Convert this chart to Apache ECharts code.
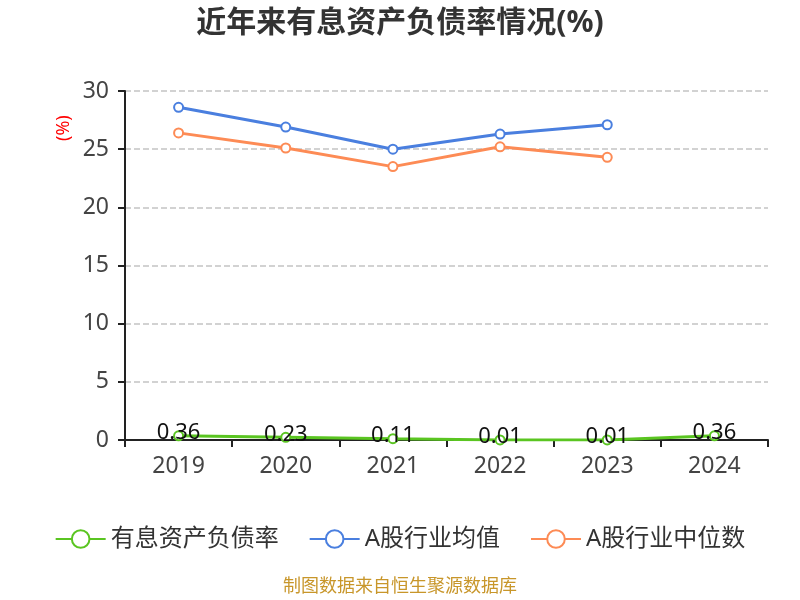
<!DOCTYPE html>
<html><head><meta charset="utf-8">
<script src="https://cdn.jsdelivr.net/npm/echarts@6/dist/echarts.min.js"></script>
<style>html,body{margin:0;padding:0;background:#fff}#c{width:800px;height:600px}</style>
</head><body><div id="c"></div>
<script>
const categories = ['2019','2020','2021','2022','2023','2024'];
const seriesNames = ['有息资产负债率','A股行业均值','A股行业中位数'];
const debtRatio = [0.36,0.23,0.11,0.01,0.01,0.36];
const industryMean = [28.6,26.9,25.0,26.3,27.1,null];
const industryMedian = [26.4,25.1,23.5,25.2,24.3,null];
const yTicks = [0,5,10,15,20,25,30];

const chart = echarts.init(document.getElementById('c'));
const font = 'Noto Sans, Noto Sans CJK SC, sans-serif';
chart.setOption({
  animation:false,
  title:{text:'近年来有息资产负债率情况(%)',left:'center',top:3,textStyle:{fontSize:30,fontWeight:'bold',color:'#333',fontFamily:font}},
  grid:{left:125,right:32,top:91,bottom:160},
  legend:{top:522,left:'center',itemWidth:50,itemHeight:22,itemGap:30,textStyle:{fontSize:24,color:'#333',fontFamily:font},data:seriesNames},
  graphic:[
    {type:'text',left:'center',top:578,style:{text:'制图数据来自恒生聚源数据库',fill:'#c8962a',fontSize:18,fontFamily:font}},
    {type:'text',x:55,y:141,rotation:Math.PI/2,style:{text:'(%)',fill:'#f00',fontSize:18,fontFamily:font}}
  ],
  xAxis:{type:'category',data:categories,boundaryGap:true,
    axisLine:{lineStyle:{color:'#222',width:2}},
    axisTick:{show:true,length:7,lineStyle:{color:'#222',width:2}},
    axisLabel:{fontSize:23,color:'#444',margin:15,fontFamily:font}},
  yAxis:{type:'value',min:yTicks[0],max:yTicks[yTicks.length-1],interval:5,
    axisLine:{show:true,lineStyle:{color:'#222',width:2}},
    axisTick:{show:true,length:7,lineStyle:{color:'#222',width:2}},
    axisLabel:{fontSize:23,color:'#444',margin:16,fontFamily:font},
    splitLine:{lineStyle:{type:'dashed',color:'#c4c4c4',width:1.5}}},
  series:[
    {name:seriesNames[0],type:'line',data:debtRatio,symbol:'emptyCircle',symbolSize:9,
      lineStyle:{width:3,color:'#5ac521'},itemStyle:{color:'#5ac521',borderWidth:2},
      label:{show:true,position:'inside',offset:[0,-3],fontSize:22,color:'#111',fontFamily:font}},
    {name:seriesNames[1],type:'line',data:industryMean,symbol:'emptyCircle',symbolSize:9,
      lineStyle:{width:3,color:'#4a7fdf'},itemStyle:{color:'#4a7fdf',borderWidth:2}},
    {name:seriesNames[2],type:'line',data:industryMedian,symbol:'emptyCircle',symbolSize:9,
      lineStyle:{width:3,color:'#fd8b55'},itemStyle:{color:'#fd8b55',borderWidth:2}}
  ]
});
</script></body></html>
